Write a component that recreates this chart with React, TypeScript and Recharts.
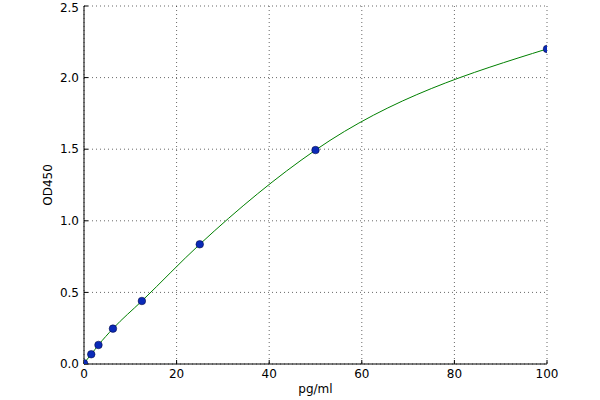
import React from "react";
import {
  LineChart,
  Line,
  XAxis,
  YAxis,
  CartesianGrid,
} from "recharts";

const concentrations = [0, 1.5625, 3.125, 6.25, 12.5, 25, 50, 100];
const odValues = [0.005, 0.068, 0.133, 0.247, 0.44, 0.836, 1.494, 2.2];
const xTicks = [0, 20, 40, 60, 80, 100];
const yTicks = [0, 0.5, 1.0, 1.5, 2.0, 2.5];

const data = concentrations.map((c, i) => ({ x: c, y: odValues[i] }));

const font = "'DejaVu Sans', sans-serif";
const tickStyle = { fontSize: 12, fill: "#000", fontFamily: font };

export default function App() {
  return (
    <div style={{ position: "fixed", left: 0, top: 0, width: 600, height: 400, background: "#fff" }}>
      <LineChart
        width={600}
        height={400}
        data={data}
        margin={{ top: 6, right: 53, bottom: 6, left: 24 }}
      >
        <CartesianGrid stroke="#000" strokeWidth={0.6} strokeDasharray="1 3" />
        <XAxis
          dataKey="x"
          type="number"
          domain={[0, 100]}
          ticks={xTicks}
          allowDataOverflow
          height={30}
          tickSize={-4}
          tickMargin={9}
          tick={tickStyle}
          axisLine={{ stroke: "#000", strokeWidth: 1 }}
          tickLine={{ stroke: "#000" }}
          label={{
            value: "pg/ml",
            position: "insideBottom",
            offset: 1,
            style: { fontSize: 12, fill: "#000", fontFamily: font },
          }}
        />
        <XAxis
          xAxisId="top"
          dataKey="x"
          type="number"
          orientation="top"
          domain={[0, 100]}
          ticks={xTicks}
          height={0}
          tickSize={-4}
          tickFormatter={() => ""}
          axisLine={{ stroke: "#000", strokeWidth: 1 }}
          tickLine={{ stroke: "#000" }}
        />
        <YAxis
          type="number"
          domain={[0, 2.5]}
          ticks={yTicks}
          allowDataOverflow
          width={60}
          tickSize={-4}
          tickMargin={9}
          tick={tickStyle}
          tickFormatter={(v: number) => v.toFixed(1)}
          axisLine={{ stroke: "#000", strokeWidth: 1 }}
          tickLine={{ stroke: "#000" }}
          label={{
            value: "OD450",
            angle: -90,
            position: "insideLeft",
            offset: 24,
            style: { fontSize: 12, fill: "#000", fontFamily: font, textAnchor: "middle" },
          }}
        />
        <YAxis
          yAxisId="right"
          type="number"
          orientation="right"
          domain={[0, 2.5]}
          ticks={yTicks}
          width={0}
          tickSize={-4}
          tickFormatter={() => ""}
          axisLine={{ stroke: "#000", strokeWidth: 1 }}
          tickLine={{ stroke: "#000" }}
        />
        <Line
          dataKey="y"
          type="monotone"
          stroke="#008000"
          strokeWidth={1}
          isAnimationActive={false}
          dot={{ r: 3.8, fill: "#0a2ab8", stroke: "#000033", strokeWidth: 0.5, clipDot: true }}
          activeDot={false}
        />
      </LineChart>
    </div>
  );
}
